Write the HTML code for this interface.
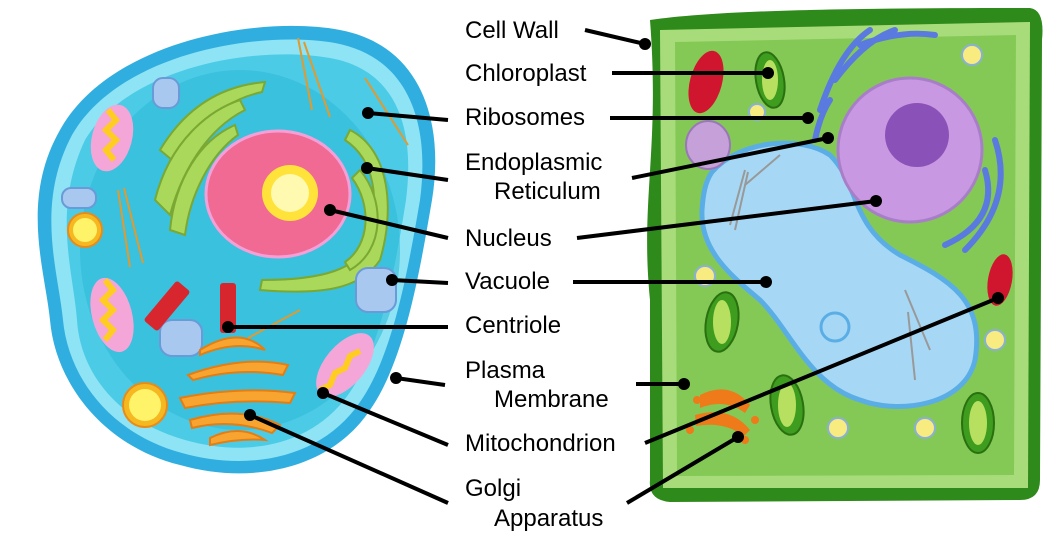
<!DOCTYPE html>
<html><head><style>
html,body{margin:0;padding:0;background:#fff;}
svg{display:block;}
text{font-family:"Liberation Sans",sans-serif;font-size:24px;fill:#000;}
</style></head><body>
<svg width="1061" height="536" viewBox="0 0 1061 536" xmlns="http://www.w3.org/2000/svg">
<!-- Animal cell -->
<path d="M60,130 C110,40 260,15 340,30 C420,45 445,120 432,200 C420,270 405,360 370,410 C330,470 250,485 180,465 C100,445 55,380 50,320 C45,270 20,200 60,130Z" fill="#31aee0"/>
<path d="M72,135 C120,52 260,30 335,43 C410,57 430,125 420,200 C408,270 393,355 360,402 C322,458 250,472 182,453 C108,433 68,375 63,320 C58,270 35,205 72,135Z" fill="#8ee4f4"/>
<path d="M85,140 C130,65 260,45 330,58 C398,70 415,130 406,200 C395,270 380,350 348,395 C312,445 248,458 185,440 C115,420 80,370 77,320 C73,270 52,210 85,140Z" fill="#4ccbe6"/>
<ellipse cx="240" cy="250" rx="160" ry="180" fill="#2fbad9" opacity="0.6"/>
<!-- ER -->
<g fill="#a9d85a" stroke="#7aa832" stroke-width="2">
<path d="M160,150 C190,100 230,85 265,82 L262,92 C235,98 200,115 178,165Z"/>
<path d="M155,200 C170,140 210,110 240,100 L245,110 C215,125 185,160 170,215Z"/>
<path d="M170,230 C175,180 200,140 235,125 L238,135 C210,155 190,195 185,235Z"/>
<path d="M350,130 C390,150 395,210 380,260 C360,290 320,295 260,290 L262,280 C320,280 360,270 368,240 C380,200 375,160 345,140Z"/>
<path d="M360,170 C385,200 385,250 350,270 L345,262 C370,245 372,205 352,178Z"/>
</g>
<ellipse cx="278" cy="194" rx="72" ry="63" fill="#f06a94" stroke="#f4a0d8" stroke-width="3"/>
<circle cx="290" cy="193" r="28" fill="#ffe33a"/><circle cx="290" cy="193" r="19" fill="#fffab0"/>
<g><ellipse cx="112" cy="138" rx="20" ry="34" transform="rotate(15 112 138)" fill="#f4a6d8"/><path d="M108,110 l8,10 -10,10 10,10 -10,10 8,10" stroke="#ffcc22" stroke-width="6" fill="none"/>
<ellipse cx="112" cy="315" rx="20" ry="38" transform="rotate(-15 112 315)" fill="#f4a6d8"/><path d="M105,280 l8,10 -10,10 10,10 -10,10 10,10 -8,10" stroke="#ffcc22" stroke-width="6" fill="none"/>
<ellipse cx="345" cy="365" rx="20" ry="38" transform="rotate(40 345 365)" fill="#f4a6d8"/><path d="M320,390 l10,-5 5,-12 10,-5 5,-12 10,-5" stroke="#ffcc22" stroke-width="6" fill="none"/>
</g>
<g fill="#f5b820" stroke="#e88b18" stroke-width="2"><circle cx="85" cy="230" r="17"/><circle cx="145" cy="405" r="22"/></g>
<g fill="#fff36a"><circle cx="85" cy="230" r="12"/><circle cx="145" cy="405" r="16"/></g>
<g fill="#a8c8f0" stroke="#6a9ad8" stroke-width="2"><rect x="153" y="78" width="26" height="30" rx="10"/><rect x="62" y="188" width="34" height="20" rx="9"/><rect x="160" y="320" width="42" height="36" rx="12"/><rect x="356" y="268" width="40" height="44" rx="12"/></g>
<g fill="#d8262e"><rect x="220" y="283" width="16" height="50" rx="3"/><rect x="158" y="280" width="18" height="52" rx="3" transform="rotate(40 167 306)"/></g>
<g fill="#f7a530" stroke="#e57d12" stroke-width="2"><path d="M200,350 q40,-25 65,0 q-30,-10 -65,5Z"/><path d="M188,375 q55,-20 100,-10 l-5,10 q-45,-8 -90,5Z"/><path d="M180,398 q60,-12 115,-5 l-5,10 q-55,-5 -105,5Z"/><path d="M190,420 q50,-15 90,5 l-8,8 q-40,-15 -80,-5Z"/><path d="M210,438 q30,-15 55,2 q-25,-2 -55,5Z"/></g>
<g stroke="#e09a30" stroke-width="2"><line x1="298" y1="38" x2="312" y2="110"/><line x1="304" y1="42" x2="330" y2="117"/><line x1="365" y1="78" x2="408" y2="145"/><line x1="118" y1="190" x2="130" y2="267"/><line x1="124" y1="188" x2="143" y2="263"/><line x1="248" y1="338" x2="300" y2="310"/></g>
<!-- Plant cell -->
<path d="M650,20 C720,10 850,8 1030,8 Q1045,10 1042,40 L1040,480 Q1040,500 1020,500 L670,502 Q648,500 650,480 L650,300 C640,200 660,150 650,20Z" fill="#2e8a1a"/>
<path d="M660,30 L1030,22 L1028,488 L663,488Z" fill="#a8dc7a"/>
<path d="M675,42 L1016,35 L1014,475 L677,476Z" fill="#84c955"/>
<!-- vacuole -->
<path d="M712,172 C740,140 800,135 830,155 C860,185 850,225 900,255 C950,280 985,300 975,360 C965,405 900,415 860,400 C810,385 790,330 760,300 C730,275 700,250 702,210 C703,195 705,182 712,172Z" fill="#a6d8f5" stroke="#5aaee5" stroke-width="5"/>
<circle cx="835" cy="327" r="14" fill="none" stroke="#5aaee5" stroke-width="3"/>
<g stroke="#999" stroke-width="2"><line x1="745" y1="170" x2="730" y2="225"/><line x1="748" y1="172" x2="735" y2="230"/><line x1="745" y1="185" x2="780" y2="155"/><line x1="905" y1="290" x2="930" y2="350"/><line x1="908" y1="312" x2="915" y2="380"/></g>
<circle cx="910" cy="150" r="72" fill="#c998e2" stroke="#a97ec8" stroke-width="3"/>
<circle cx="917" cy="135" r="32" fill="#8a52b8"/>
<g stroke="#5a7ae0" stroke-width="6" fill="none" stroke-linecap="round"><path d="M820,110 q20,-60 50,-80"/><path d="M835,80 q30,-40 60,-50"/><path d="M995,140 q20,60 -30,110"/><path d="M985,170 q15,50 -40,75"/><path d="M815,140 q5,-25 15,-40"/><path d="M860,45 q40,-15 75,-10"/></g>
<ellipse cx="708" cy="145" rx="22" ry="24" fill="#c6a0d8" stroke="#9a78b8" stroke-width="2"/>
<g fill="#3e9c1e" stroke="#2a7010" stroke-width="2"><ellipse cx="770" cy="80" rx="14" ry="28" transform="rotate(-10 770 80)"/><ellipse cx="722" cy="322" rx="16" ry="30" transform="rotate(10 722 322)"/><ellipse cx="787" cy="405" rx="16" ry="30" transform="rotate(-10 787 405)"/><ellipse cx="978" cy="423" rx="16" ry="30"/></g>
<g fill="#b8e060"><ellipse cx="770" cy="80" rx="8" ry="20"/><ellipse cx="722" cy="322" rx="9" ry="22"/><ellipse cx="787" cy="405" rx="9" ry="22"/><ellipse cx="978" cy="423" rx="9" ry="22"/></g>
<g fill="#d0162e"><ellipse cx="706" cy="82" rx="16" ry="32" transform="rotate(15 706 82)"/><ellipse cx="1000" cy="280" rx="12" ry="26" transform="rotate(10 1000 280)"/></g>
<g fill="#ef7a1a"><path d="M700,395 q30,-15 50,10 l-5,8 q-20,-15 -45,-5Z"/><path d="M695,415 q35,-10 55,15 l-6,6 q-20,-15 -48,-10Z"/><circle cx="745" cy="440" r="4"/><circle cx="690" cy="430" r="4"/><circle cx="755" cy="420" r="4"/><circle cx="697" cy="400" r="4"/></g>
<g fill="#f8ec80" stroke="#8ab0d8" stroke-width="2"><circle cx="972" cy="55" r="10"/><circle cx="705" cy="276" r="10"/><circle cx="995" cy="340" r="10"/><circle cx="838" cy="428" r="10"/><circle cx="925" cy="428" r="10"/><circle cx="757" cy="112" r="8"/></g>
<!-- connectors -->
<g stroke="#000" stroke-width="4" fill="none">
<line x1="585" y1="30" x2="645" y2="44"/><line x1="612" y1="73" x2="768" y2="73"/>
<line x1="448" y1="120" x2="368" y2="113"/><line x1="610" y1="118" x2="808" y2="118"/>
<line x1="448" y1="180" x2="367" y2="168"/><line x1="632" y1="178" x2="828" y2="138"/>
<line x1="448" y1="238" x2="330" y2="210"/><line x1="577" y1="238" x2="876" y2="201"/>
<line x1="448" y1="283" x2="392" y2="280"/><line x1="573" y1="282" x2="766" y2="282"/>
<line x1="448" y1="327" x2="228" y2="327"/>
<line x1="445" y1="385" x2="396" y2="378"/><line x1="636" y1="384" x2="684" y2="384"/>
<line x1="448" y1="445" x2="323" y2="393"/><line x1="645" y1="443" x2="998" y2="298"/>
<line x1="448" y1="503" x2="250" y2="415"/><line x1="627" y1="503" x2="738" y2="437"/>
</g>
<g fill="#000"><circle cx="645" cy="44" r="6"/><circle cx="768" cy="73" r="6"/><circle cx="368" cy="113" r="6"/><circle cx="808" cy="118" r="6"/><circle cx="367" cy="168" r="6"/><circle cx="828" cy="138" r="6"/><circle cx="330" cy="210" r="6"/><circle cx="876" cy="201" r="6"/><circle cx="392" cy="280" r="6"/><circle cx="766" cy="282" r="6"/><circle cx="228" cy="327" r="6"/><circle cx="396" cy="378" r="6"/><circle cx="684" cy="384" r="6"/><circle cx="323" cy="393" r="6"/><circle cx="998" cy="298" r="6"/><circle cx="250" cy="415" r="6"/><circle cx="738" cy="437" r="6"/></g>
<text x="465" y="38">Cell Wall</text>
<text x="465" y="81">Chloroplast</text>
<text x="465" y="125">Ribosomes</text>
<text x="465" y="170">Endoplasmic</text>
<text x="494" y="199">Reticulum</text>
<text x="465" y="246">Nucleus</text>
<text x="465" y="289">Vacuole</text>
<text x="465" y="333">Centriole</text>
<text x="465" y="378">Plasma</text>
<text x="494" y="407">Membrane</text>
<text x="465" y="451">Mitochondrion</text>
<text x="465" y="496">Golgi</text>
<text x="494" y="526">Apparatus</text>
</svg>
</body></html>
